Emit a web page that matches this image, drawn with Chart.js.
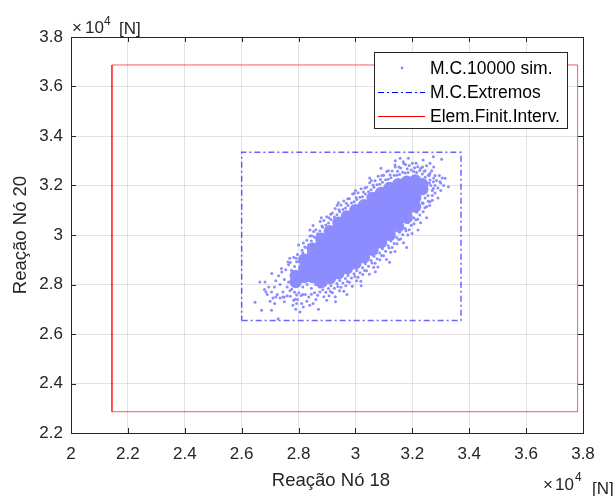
<!DOCTYPE html>
<html lang="pt">
<head>
<meta charset="UTF-8">
<title>Reação Nó 18 x Reação Nó 20</title>
<script src="https://cdn.jsdelivr.net/npm/chart.js"></script>
<style>
  body { margin: 0; background: #fff; }
  .chart-container { position: relative; width: 614px; height: 496px; }
</style>
</head>
<body>
<div class="chart-container"><canvas id="scatterChart"></canvas></div>
<script>
// eixos, valores em x10^4 [N]
const xTicks = [2, 2.2, 2.4, 2.6, 2.8, 3, 3.2, 3.4, 3.6, 3.8];
const yTicks = [2.2, 2.4, 2.6, 2.8, 3, 3.2, 3.4, 3.6, 3.8];
const xLabel = 'Reação Nó 18';
const yLabel = 'Reação Nó 20';
const legendLabels = ['M.C.10000 sim.', 'M.C.Extremos', 'Elem.Finit.Interv.'];

// nuvem Monte Carlo - parte densa
const mcCore = [
  [2.79,2.81],[2.79,2.835],
  [2.82,2.83],[2.82,2.865],[2.82,2.90],
  [2.85,2.83],[2.85,2.86],[2.85,2.89],[2.85,2.92],[2.85,2.945],
  [2.88,2.81],[2.88,2.84],[2.88,2.87],[2.88,2.90],[2.88,2.93],[2.88,2.96],[2.88,2.985],
  [2.91,2.825],[2.91,2.855],[2.91,2.885],[2.91,2.92],[2.91,2.95],[2.91,2.985],[2.91,3.015],
  [2.94,2.845],[2.94,2.875],[2.94,2.905],[2.94,2.935],[2.94,2.965],[2.94,2.995],[2.94,3.025],[2.94,3.05],
  [2.97,2.865],[2.97,2.895],[2.97,2.925],[2.97,2.955],[2.97,2.985],[2.97,3.015],[2.97,3.045],[2.97,3.075],
  [3.00,2.885],[3.00,2.915],[3.00,2.945],[3.00,2.975],[3.00,3.005],[3.00,3.035],[3.00,3.065],[3.00,3.10],
  [3.03,2.91],[3.03,2.94],[3.03,2.97],[3.03,3.00],[3.03,3.03],[3.03,3.06],[3.03,3.09],[3.03,3.12],
  [3.06,2.94],[3.06,2.97],[3.06,3.00],[3.06,3.03],[3.06,3.06],[3.06,3.09],[3.06,3.12],[3.06,3.15],
  [3.09,2.97],[3.09,3.00],[3.09,3.03],[3.09,3.06],[3.09,3.09],[3.09,3.12],[3.09,3.15],[3.09,3.17],
  [3.12,3.00],[3.12,3.03],[3.12,3.06],[3.12,3.095],[3.12,3.13],[3.12,3.16],[3.12,3.19],
  [3.15,3.035],[3.15,3.065],[3.15,3.095],[3.15,3.125],[3.15,3.155],[3.15,3.185],[3.15,3.205],
  [3.18,3.07],[3.18,3.10],[3.18,3.13],[3.18,3.16],[3.18,3.19],[3.18,3.215],
  [3.21,3.115],[3.21,3.15],[3.21,3.185],[3.21,3.22],
  [3.235,3.185],[3.235,3.205]
];

// nuvem Monte Carlo - borda e pontos dispersos
const mcEdge = [
  // borda superior
  [2.775,2.858],[2.786,2.873],[2.771,2.889],[2.792,2.906],
  [2.801,2.893],[2.809,2.904],[2.796,2.921],[2.812,2.938],
  [2.824,2.951],[2.836,2.961],[2.829,2.979],[2.84,2.996],
  [2.856,2.991],[2.867,3.005],[2.861,3.021],[2.851,3.038],
  [2.885,3.031],[2.896,3.04],[2.889,3.059],[2.899,3.074],
  [2.914,3.063],[2.926,3.073],[2.919,3.089],[2.929,3.107],
  [2.945,3.094],[2.956,3.103],[2.949,3.121],[2.959,3.137],
  [2.974,3.119],[2.986,3.129],[2.979,3.146],[2.99,3.166],
  [3.005,3.143],[3.016,3.153],[3.009,3.171],[3.02,3.187],
  [3.035,3.166],[3.046,3.175],[3.039,3.193],[3.05,3.211],
  [3.065,3.193],[3.076,3.203],[3.069,3.219],[3.08,3.237],
  [3.095,3.213],[3.106,3.223],[3.099,3.241],[3.11,3.257],
  [3.125,3.231],[3.136,3.241],[3.129,3.259],[3.14,3.275],
  [3.155,3.244],[3.166,3.254],[3.159,3.271],[3.17,3.289],
  [3.185,3.253],[3.196,3.263],[3.189,3.281],
  [3.215,3.253],[3.226,3.261],[3.219,3.276],
  [3.245,3.233],[3.256,3.241],[3.262,3.222],
  [2.815,2.928],[2.845,2.976],[2.875,3.016],[2.905,3.048],[2.935,3.082],
  [2.965,3.109],[2.995,3.134],[3.025,3.155],[3.055,3.183],[3.085,3.205],
  [3.115,3.225],[3.145,3.241],[3.175,3.251],[3.205,3.257],[3.235,3.246],
  [2.793,2.892],[2.783,2.91],[2.822,2.952],[2.817,2.968],[2.847,2.997],[2.853,3.014],
  [2.882,3.036],[2.876,3.055],[2.907,3.07],[2.913,3.084],[2.942,3.102],[2.936,3.12],
  [2.968,3.128],[2.973,3.146],[3.002,3.152],[2.996,3.169],[3.028,3.174],[3.033,3.19],
  [3.062,3.202],[3.056,3.22],[3.088,3.224],[3.093,3.24],[3.122,3.242],[3.116,3.26],
  [3.148,3.258],[3.153,3.275],[3.182,3.268],[3.176,3.285],[3.208,3.272],[3.213,3.29],
  [3.242,3.258],[3.236,3.275],
  // borda inferior
  [2.776,2.781],[2.786,2.769],[2.771,2.753],[2.783,2.736],
  [2.801,2.767],[2.809,2.756],[2.796,2.739],[2.811,2.723],
  [2.824,2.76],[2.836,2.75],[2.829,2.732],[2.839,2.716],
  [2.856,2.767],[2.867,2.757],[2.861,2.739],[2.851,2.723],
  [2.885,2.779],[2.896,2.769],[2.889,2.751],[2.899,2.736],
  [2.914,2.795],[2.926,2.785],[2.919,2.767],[2.929,2.751],
  [2.945,2.816],[2.956,2.806],[2.949,2.789],[2.959,2.773],
  [2.974,2.836],[2.986,2.826],[2.979,2.809],[2.989,2.793],
  [3.005,2.857],[3.016,2.847],[3.009,2.829],[3.019,2.813],
  [3.035,2.884],[3.046,2.874],[3.039,2.856],[3.049,2.841],
  [3.065,2.914],[3.076,2.904],[3.069,2.886],[3.079,2.871],
  [3.095,2.944],[3.106,2.934],[3.099,2.916],[3.109,2.901],
  [3.125,2.976],[3.136,2.966],[3.129,2.949],[3.139,2.933],
  [3.155,3.011],[3.166,3.001],[3.159,2.984],[3.169,2.969],
  [3.185,3.049],[3.196,3.039],[3.189,3.021],[3.199,3.006],
  [3.215,3.092],[3.226,3.081],[3.219,3.064],[3.229,3.049],
  [3.245,3.149],[3.256,3.136],[3.261,3.119],
  [2.815,2.76],[2.845,2.761],[2.875,2.77],[2.905,2.784],[2.935,2.804],
  [2.965,2.824],[2.995,2.843],[3.025,2.868],[3.055,2.897],[3.085,2.927],
  [3.115,2.957],[3.145,2.99],[3.175,3.026],[3.205,3.07],[3.235,3.13],
  [2.815,2.79],[2.83,2.80],[2.845,2.785],[2.86,2.80],[2.875,2.79],[2.87,2.815],
  [2.895,2.80],[2.905,2.82],[2.885,2.825],[2.84,2.815],[2.855,2.81],
  [2.793,2.758],[2.788,2.74],[2.912,2.772],[2.907,2.755],[2.938,2.792],[2.944,2.775],
  [2.972,2.812],[2.966,2.795],[2.998,2.832],[3.004,2.815],[3.032,2.857],[3.026,2.84],
  [3.058,2.887],[3.064,2.87],[3.092,2.917],[3.086,2.9],[3.118,2.947],[3.124,2.93],
  [3.152,2.982],[3.146,2.965],[3.178,3.017],[3.184,3.0],[3.212,3.062],[3.206,3.045],
  [3.238,3.127],[3.244,3.11],
  // extremo superior direito
  [3.265,3.2],[3.27,3.18],[3.275,3.23],[3.28,3.2],[3.285,3.22],[3.29,3.19],
  [3.26,3.24],[3.268,3.26],[3.295,3.24],[3.3,3.21],[3.305,3.23],[3.28,3.17],
  [3.27,3.14],[3.255,3.16],[3.25,3.19],[3.26,3.21],[3.245,3.26],[3.25,3.28],
  [3.275,3.275],[3.31,3.2],
  // cauda inferior esquerda
  [2.705,2.77],[2.715,2.79],[2.725,2.76],[2.735,2.80],[2.745,2.77],[2.75,2.82],
  [2.76,2.79],[2.755,2.86],[2.765,2.81],[2.73,2.835],[2.72,2.815],[2.74,2.865],
  [2.76,2.755],[2.77,2.775],[2.71,2.745],[2.695,2.79],[2.685,2.77],[2.765,2.88],
  [2.75,2.75],[2.735,2.745],
  // dispersos
  [2.647,2.728],[2.670,2.696],[2.705,2.696],[2.805,2.689],[2.728,2.662],[2.664,2.81],
  [2.682,2.81],[2.706,2.844],[2.741,2.851],[2.769,2.906],[2.716,2.723],[2.700,2.732],
  [2.745,2.749],[2.780,2.716],[2.763,2.891],[2.817,2.709],[2.793,2.723],[2.69,2.76],
  [2.68,2.78],[2.72,2.75],[2.75,2.73],[2.79,2.70],[2.87,2.70],[2.93,2.73],[2.97,2.76],
  [3.02,2.795],[3.07,2.852],[3.12,2.89],[3.18,2.95],[3.22,3.02],[3.25,3.07],
  [2.80,2.96],[2.84,3.02],[2.88,3.07],[2.94,3.13],[3.0,3.18],[3.05,3.23],[3.09,3.27],
  [3.274,3.316],[3.315,3.229],[3.327,3.195],[3.297,3.215],[3.262,3.29],[3.238,3.303],
  [3.186,3.31],[3.157,3.31],[3.168,3.296],[3.139,3.283],[3.262,3.249],[3.274,3.188],
  [3.262,3.134],[3.250,3.114],[3.238,3.094],[3.274,3.215],[3.303,3.306],[3.29,3.15],
  [3.30,3.18],[3.2,3.29],[3.23,3.27],[3.14,3.30],[3.28,3.24],[3.24,3.17],[3.27,3.16]
];

// retangulo dos extremos do Monte Carlo
const mcBoxX = [2.600, 3.371];
const mcBoxY = [2.655, 3.334];
// retangulo do elemento finito intervalar
const efBoxX = [2.144, 3.781];
const efBoxY = [2.286, 3.687];

const FONT = "'Liberation Sans', Arial, Helvetica, sans-serif";
const AXIS = '#262626';

function toPoints(list) {
  return list.map(p => ({ x: p[0], y: p[1] }));
}
function boxPoints(bx, by) {
  return [
    { x: bx[0], y: by[0] }, { x: bx[1], y: by[0] }, { x: bx[1], y: by[1] },
    { x: bx[0], y: by[1] }, { x: bx[0], y: by[0] }
  ];
}

// caixa, ticks para dentro, rotulos e legenda no estilo matlab
const matlabAxes = {
  id: 'matlabAxes',
  afterDraw(chart) {
    const ctx = chart.ctx;
    const a = chart.chartArea;
    const xs = chart.scales.x, ys = chart.scales.y;
    ctx.save();
    ctx.strokeStyle = AXIS;
    ctx.lineWidth = 1;
    ctx.beginPath();
    xTicks.forEach(v => {
      const px = Math.round(xs.getPixelForValue(v)) + 0.5;
      ctx.moveTo(px, a.bottom); ctx.lineTo(px, a.bottom - 5);
      ctx.moveTo(px, a.top); ctx.lineTo(px, a.top + 5);
    });
    yTicks.forEach(v => {
      const py = Math.round(ys.getPixelForValue(v)) + 0.5;
      ctx.moveTo(a.left, py); ctx.lineTo(a.left + 5, py);
      ctx.moveTo(a.right, py); ctx.lineTo(a.right - 5, py);
    });
    ctx.stroke();
    ctx.strokeRect(a.left + 0.5, a.top + 0.5, a.right - a.left, a.bottom - a.top);

    // titulos dos eixos
    ctx.fillStyle = AXIS;
    ctx.font = '18.5px ' + FONT;
    ctx.textAlign = 'center';
    ctx.textBaseline = 'alphabetic';
    ctx.fillText(xLabel, 331, 486);
    ctx.save();
    ctx.translate(26, 235);
    ctx.rotate(-Math.PI / 2);
    ctx.fillText(yLabel, 0, 0);
    ctx.restore();

    // fator de escala x10^4 [N]
    ctx.textAlign = 'left';
    ctx.font = '17px ' + FONT;
    ctx.fillText('\u00d7', 72, 33);
    ctx.fillText('10', 85, 33);
    ctx.fillText('[N]', 119, 34);
    ctx.fillText('\u00d7', 543, 490);
    ctx.fillText('10', 555, 490);
    ctx.fillText('[N]', 592, 494);
    ctx.font = '12px ' + FONT;
    ctx.fillText('4', 104, 25);
    ctx.fillText('4', 575, 481);

    // legenda
    const lx = 374.5, ly = 52.5, lw = 193, lh = 76;
    ctx.fillStyle = '#fff';
    ctx.fillRect(lx, ly, lw, lh);
    ctx.strokeStyle = AXIS;
    ctx.strokeRect(lx, ly, lw, lh);
    const rows = [68, 92, 116];
    ctx.fillStyle = 'rgb(140,140,255)';
    ctx.beginPath();
    ctx.arc(402, rows[0], 1.4, 0, Math.PI * 2);
    ctx.fill();
    ctx.lineWidth = 1.2;
    ctx.strokeStyle = '#0000ff';
    ctx.setLineDash([6, 3, 2, 3]);
    ctx.beginPath(); ctx.moveTo(378, rows[1] + 0.5); ctx.lineTo(425, rows[1] + 0.5); ctx.stroke();
    ctx.setLineDash([]);
    ctx.strokeStyle = '#ff0000';
    ctx.beginPath(); ctx.moveTo(378, rows[2] + 0.5); ctx.lineTo(425, rows[2] + 0.5); ctx.stroke();
    ctx.fillStyle = '#000';
    ctx.font = '17.5px ' + FONT;
    ctx.textBaseline = 'middle';
    legendLabels.forEach((t, i) => ctx.fillText(t, 430, rows[i] + 1));
    ctx.restore();
  }
};

const ctx = document.getElementById('scatterChart').getContext('2d');
new Chart(ctx, {
  type: 'scatter',
  data: {
    datasets: [
      {
        label: legendLabels[1],
        data: boxPoints(mcBoxX, mcBoxY),
        showLine: true,
        borderColor: 'rgba(0,0,255,0.6)',
        borderWidth: 1.5,
        borderDash: [6, 3, 2, 3],
        pointRadius: 0,
        order: 0
      },
      {
        label: legendLabels[2],
        data: boxPoints(efBoxX, efBoxY),
        showLine: true,
        borderColor: 'rgba(255,0,0,0.65)',
        borderWidth: 1,
        pointRadius: 0,
        order: 0
      },
      {
        label: legendLabels[0],
        data: toPoints(mcEdge),
        backgroundColor: 'rgb(140,140,255)',
        borderWidth: 0,
        pointRadius: 1.5,
        order: 1
      },
      {
        label: legendLabels[0],
        data: toPoints(mcCore),
        backgroundColor: 'rgb(140,140,255)',
        borderWidth: 0,
        pointRadius: 6.2,
        order: 2
      }
    ]
  },
  options: {
    responsive: true,
    maintainAspectRatio: false,
    animation: false,
    devicePixelRatio: 1,
    layout: { padding: { left: 0, top: 37, right: 31, bottom: 0 } },
    plugins: {
      legend: { display: false },
      tooltip: { enabled: false }
    },
    scales: {
      x: {
        type: 'linear',
        min: 2,
        max: 3.8,
        afterBuildTicks: s => { s.ticks = xTicks.map(v => ({ value: v })); },
        afterFit: s => { s.height = 63; },
        grid: { color: 'rgba(0,0,0,0.11)', drawTicks: false },
        border: { display: false },
        ticks: {
          color: AXIS,
          font: { family: FONT, size: 17 },
          padding: 11,
          maxRotation: 0,
          callback: v => String(v)
        }
      },
      y: {
        type: 'linear',
        min: 2.2,
        max: 3.8,
        afterBuildTicks: s => { s.ticks = yTicks.map(v => ({ value: v })); },
        afterFit: s => { s.width = 71; },
        grid: { color: 'rgba(0,0,0,0.11)', drawTicks: false },
        border: { display: false },
        ticks: {
          color: AXIS,
          font: { family: FONT, size: 17 },
          padding: 8,
          callback: v => String(v)
        }
      }
    }
  },
  plugins: [matlabAxes]
});
</script>
</body>
</html>
